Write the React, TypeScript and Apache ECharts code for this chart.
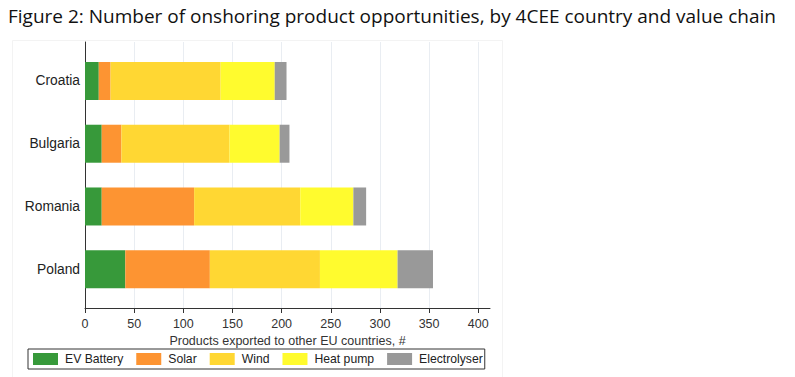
import React, { useEffect, useRef } from "react";
import * as echarts from "echarts";

const countries = ["Croatia", "Bulgaria", "Romania", "Poland"];
const seriesNames = ["EV Battery", "Solar", "Wind", "Heat pump", "Electrolyser"];
const evBattery = [14, 17, 17, 41];
const solar = [12, 20, 94, 86];
const wind = [112, 110, 108, 112];
const heatPump = [55, 51, 54, 79];
const electrolyser = [12, 10, 13, 36];
const xTicks = [0, 50, 100, 150, 200, 250, 300, 350, 400];
const colors = ["#37993a", "#fd9432", "#ffd733", "#fffb2e", "#999999"];

const FONT = "Liberation Sans, Arial, sans-serif";

export default function App() {
  const ref = useRef<HTMLDivElement>(null);
  useEffect(() => {
    if (!ref.current) return;
    const chart = echarts.init(ref.current, undefined, { renderer: "svg" });
    const values = [evBattery, solar, wind, heatPump, electrolyser];
    const gridLeft = 85;
    const gridRight = 305;
    const xMax = 412;
    chart.setOption({
      animation: false,
      backgroundColor: "#ffffff",
      title: {
        text: "Figure 2: Number of onshoring product opportunities, by 4CEE country and value chain",
        left: 8,
        top: 6,
        padding: 0,
        textStyle: {
          fontFamily: "Open Sans, sans-serif",
          fontSize: 19,
          fontWeight: "normal",
          color: "#111",
        },
      },
      graphic: [
        {
          type: "rect",
          shape: { x: 12.5, y: 40.5, width: 490, height: 345 },
          style: { fill: "none", stroke: "#f3f3f3", lineWidth: 1 },
          z: -10,
          silent: true,
        },
      ],
      legend: {
        data: seriesNames,
        left: 28,
        top: 349,
        orient: "horizontal",
        itemWidth: 25,
        itemHeight: 12,
        itemGap: 13,
        padding: [4, 2, 4, 5],
        borderColor: "#333",
        borderWidth: 1,
        borderRadius: 0,
        icon: "rect",
        textStyle: {
          fontFamily: FONT,
          fontSize: 12.2,
          color: "#222",
          padding: [0, 0, 0, 2],
        },
      },
      grid: [
        { left: gridLeft, right: gridRight, top: 49.6, bottom: 76.4, containLabel: false },
        { left: gridLeft, right: gridRight, top: 42, bottom: 69, containLabel: false },
      ],
      xAxis: [
        {
          type: "value",
          gridIndex: 0,
          min: 0,
          max: xMax,
          show: false,
        },
        {
          type: "value",
          gridIndex: 1,
          min: 0,
          max: xMax,
          interval: 50,
          axisLine: { show: true, lineStyle: { color: "#333", width: 1 } },
          axisTick: {
            show: true,
            length: 5,
            lineStyle: { color: "#333" },
            customValues: xTicks,
          },
          axisLabel: {
            customValues: xTicks,
            fontFamily: FONT,
            fontSize: 12.5,
            color: "#333",
            margin: 9,
          },
          splitLine: { show: true, lineStyle: { color: "#e9edf2", width: 1 } },
          name: "Products exported to other EU countries, #",
          nameLocation: "middle",
          nameGap: 16,
          nameTextStyle: { fontFamily: FONT, fontSize: 12.5, color: "#333" },
        },
      ],
      yAxis: [
        {
          type: "category",
          gridIndex: 0,
          data: countries,
          inverse: true,
          axisLine: { show: false },
          axisTick: { show: false },
          axisLabel: { fontFamily: FONT, fontSize: 13.8, color: "#222", margin: 5 },
          splitLine: { show: false },
        },
        {
          type: "value",
          gridIndex: 1,
          min: 0,
          max: 1,
          axisLine: { show: true, lineStyle: { color: "#333", width: 1 } },
          axisTick: { show: false },
          axisLabel: { show: false },
          splitLine: { show: false },
        },
      ],
      series: [
        ...seriesNames.map((name, i) => ({
          name,
          type: "bar",
          stack: "total",
          xAxisIndex: 0,
          yAxisIndex: 0,
          barWidth: 38,
          data: values[i],
          itemStyle: { color: colors[i] },
          emphasis: { disabled: true },
        })),
        {
          name: "_frame",
          type: "line",
          xAxisIndex: 1,
          yAxisIndex: 1,
          data: [],
          silent: true,
        },
      ],
    });
    return () => chart.dispose();
  }, []);
  return (
    <div
      ref={ref}
      style={{ position: "fixed", left: 0, top: 0, width: 795, height: 377 }}
    />
  );
}
